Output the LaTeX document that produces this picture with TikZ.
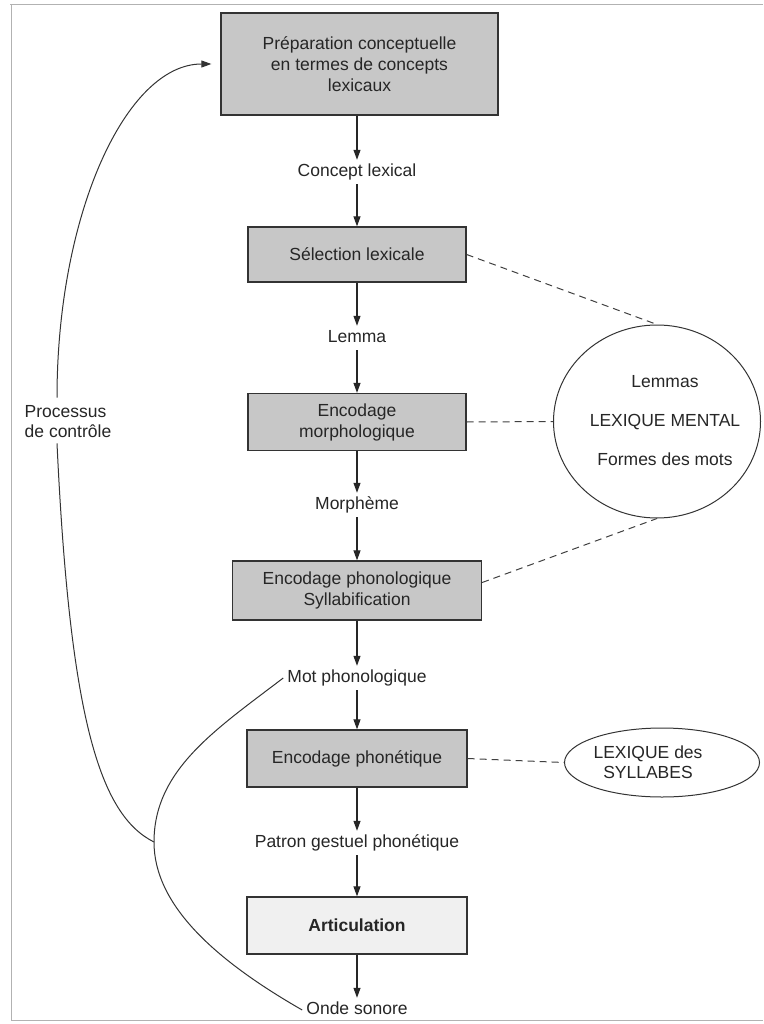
\documentclass[tikz,border=0pt]{standalone}
\usepackage{fontspec}
\setmainfont{Liberation Sans}
\usetikzlibrary{shapes.geometric,arrows.meta,calc}
\begin{document}
\begin{tikzpicture}[x=1pt,y=-1pt,
  every node/.style={font=\fontsize{17.5}{21}\selectfont, text=black!85},
  stage/.style={draw=black!80, line width=1.3pt, fill=black!22, align=center, inner sep=0pt},
  flowtext/.style={inner sep=4pt, text height=12.4pt, text depth=3.6pt},
  flow/.style={-{Triangle[length=10pt,width=7pt]}, line width=1.1pt, draw=black!85},
  link/.style={dash pattern=on 7pt off 5pt, line width=1pt, draw=black!75},
  curve/.style={line width=1pt, draw=black!80},
  frame/.style={line width=1pt, draw=black!30}]
\useasboundingbox (0,0) rectangle (763,1024);
% frame
\draw[frame] (10,5) -- (763,5);
\draw[frame] (11,5) -- (11,1020) -- (763,1020);
% main column
\node[stage, minimum width=277pt, minimum height=102pt] (prep) at (359.5,64) {Préparation conceptuelle\\en termes de concepts\\lexicaux};
\node[flowtext] (concept) at (357,172) {Concept lexical};
\node[stage, minimum width=218pt, minimum height=55pt] (sel) at (357,254.5) {Sélection lexicale};
\node[flowtext] (lemma) at (357,338) {Lemma};
\node[stage, minimum width=218pt, minimum height=57pt] (morph) at (357,422) {Encodage\\morphologique};
\node[flowtext] (morpheme) at (357,505) {Morphème};
\node[stage, minimum width=249pt, minimum height=59pt] (phono) at (357,590.5) {Encodage phonologique\\Syllabification};
\node[flowtext] (mot) at (357,678) {Mot phonologique};
\node[stage, minimum width=220pt, minimum height=57pt] (phon) at (357,758.5) {Encodage phonétique};
\node[flowtext] (patron) at (357,843) {Patron gestuel phonétique};
\node[stage, fill=black!6, minimum width=220pt, minimum height=57pt, font=\fontsize{17.5}{21}\selectfont\bfseries] (artic) at (357,925.5) {Articulation};
\node[flowtext] (onde) at (357,1010) {Onde sonore};
% arrows
\draw[flow] (prep.south -| concept) -- (concept);
\draw[flow] (concept) -- (sel);
\draw[flow] (sel) -- (lemma);
\draw[flow] (lemma) -- (morph);
\draw[flow] (morph) -- (morpheme);
\draw[flow] (morpheme) -- (phono);
\draw[flow] (phono) -- (mot);
\draw[flow] (mot) -- (phon);
\draw[flow] (phon) -- (patron);
\draw[flow] (patron) -- (artic);
\draw[flow] (artic) -- (onde);
% lexicons
\node[ellipse, draw=black!80, line width=1pt, minimum width=207pt, minimum height=193pt, inner sep=0pt] (lex) at (657,421.5) {};
\node[align=center, font=\fontsize{17.5}{39}\selectfont] (lextext) at (665,421) {Lemmas\\LEXIQUE MENTAL\\Formes des mots};
\node[ellipse, draw=black!80, line width=1pt, minimum width=195pt, minimum height=69pt, inner sep=0pt] (syl) at (662,762.5) {};
\node[align=center, font=\fontsize{17.5}{20}\selectfont] (syltext) at (648,762) {LEXIQUE des\\SYLLABES};
\draw[link] (sel.east) -- (lex.north);
\draw[link] (morph.east) -- (lex.west);
\draw[link] ([yshift=8pt]phono.east) -- (lex.south);
\draw[link] (phon.east) -- (syl.west);
% control
\node[align=left, font=\fontsize{17.5}{20}\selectfont, inner sep=3pt] (ctrl) at (68,422) {Processus\\de contrôle};
\coordinate (ctop) at ($(ctrl.north)+(-11,-5)$);
\coordinate (cbot) at ($(ctrl.south)+(-11,2)$);
\coordinate (j) at (154,842);
\draw[curve, -{Triangle[length=10pt,width=7pt]}] (ctop) .. controls (57,214) and (126,64) .. ([xshift=-9pt]prep.west);
\draw[curve] (cbot) .. controls (70,720) and (100,815) .. (j);
\draw[curve] (mot.west) .. controls (215,730) and (154,770) .. (j) .. controls (154,905) and (215,960) .. (onde.west);
\end{tikzpicture}
\end{document}
